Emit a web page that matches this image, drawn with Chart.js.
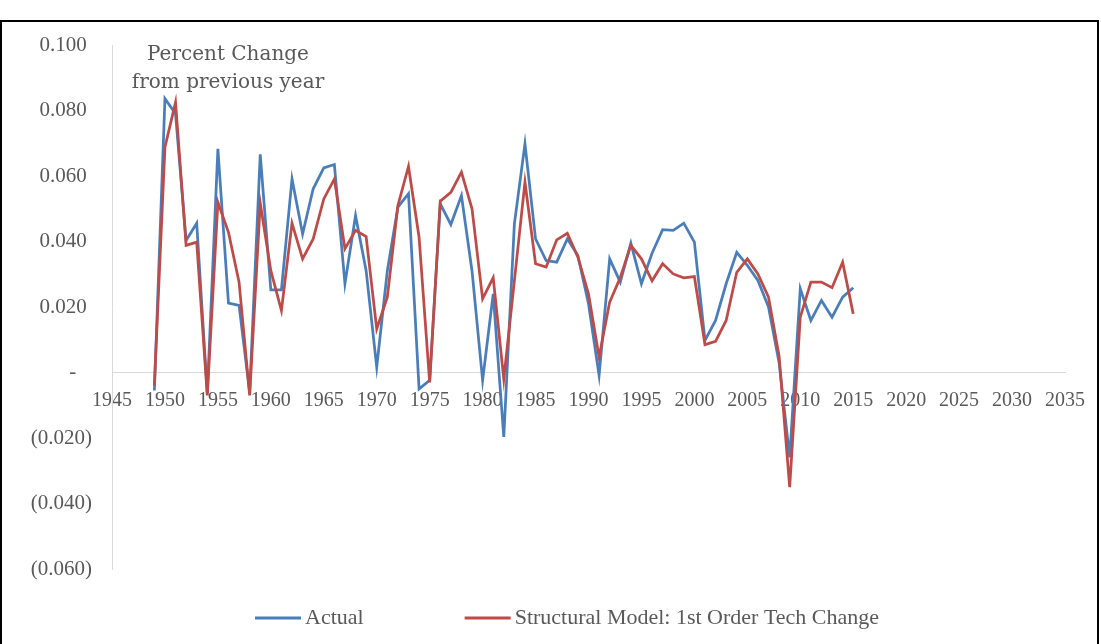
<!DOCTYPE html>
<html>
<head>
<meta charset="utf-8">
<script src="https://cdn.jsdelivr.net/npm/chart.js@4.4.1/dist/chart.umd.min.js"></script>
<style>
  html, body { margin: 0; padding: 0; background: #fff; }
  #wrap { position: relative; width: 1101px; height: 644px; overflow: hidden; }
  #frame { position: absolute; left: 0; top: 20px; width: 1099px; height: 700px; border: 2px solid #000; box-sizing: border-box; pointer-events: none; }
</style>
</head>
<body>
<div id="wrap">
  <canvas id="canva" width="1101" height="644"></canvas>
  <div id="frame"></div>
</div>
<script>
const years = [
  1949, 1950, 1951, 1952, 1953, 1954, 1955, 1956, 1957, 1958,
  1959, 1960, 1961, 1962, 1963, 1964, 1965, 1966, 1967, 1968,
  1969, 1970, 1971, 1972, 1973, 1974, 1975, 1976, 1977, 1978,
  1979, 1980, 1981, 1982, 1983, 1984, 1985, 1986, 1987, 1988,
  1989, 1990, 1991, 1992, 1993, 1994, 1995, 1996, 1997, 1998,
  1999, 2000, 2001, 2002, 2003, 2004, 2005, 2006, 2007, 2008,
  2009, 2010, 2011, 2012, 2013, 2014, 2015
];
const actual = [
  -0.0055, 0.0836, 0.0790, 0.0403, 0.0456, -0.0062, 0.0683, 0.0212, 0.0205, -0.0060,
  0.0666, 0.0252, 0.0252, 0.0591, 0.0423, 0.0561, 0.0625, 0.0635, 0.0271, 0.0479,
  0.0311, 0.0016, 0.0310, 0.0505, 0.0546, -0.0050, -0.0024, 0.0515, 0.0452, 0.0540,
  0.0310, -0.0024, 0.0240, -0.0197, 0.0454, 0.0698, 0.0408, 0.0342, 0.0337, 0.0408,
  0.0357, 0.0210, -0.0009, 0.0347, 0.0276, 0.0395, 0.0271, 0.0364, 0.0436, 0.0434,
  0.0456, 0.0398, 0.0098, 0.0159, 0.0271, 0.0367, 0.0327, 0.0281, 0.0200, 0.0030,
  -0.0259, 0.0256, 0.0159, 0.0220, 0.0169, 0.0230, 0.0259
];
const structural = [
  -0.0040, 0.0688, 0.0825, 0.0388, 0.0398, -0.0070, 0.0520, 0.0428, 0.0276, -0.0070,
  0.0517, 0.0311, 0.0189, 0.0456, 0.0347, 0.0408, 0.0530, 0.0591, 0.0378, 0.0434,
  0.0415, 0.0133, 0.0230, 0.0510, 0.0629, 0.0413, -0.0030, 0.0523, 0.0550, 0.0612,
  0.0500, 0.0225, 0.0290, -0.0020, 0.0280, 0.0581, 0.0332, 0.0322, 0.0405, 0.0425,
  0.0352, 0.0240, 0.0047, 0.0215, 0.0290, 0.0388, 0.0347, 0.0280, 0.0332, 0.0301,
  0.0289, 0.0293, 0.0085, 0.0095, 0.0159, 0.0306, 0.0347, 0.0301, 0.0230, 0.0050,
  -0.0350, 0.0169, 0.0276, 0.0276, 0.0259, 0.0337, 0.0179
];
const seriesNames = ["Actual", "Structural Model: 1st Order Tech Change"];
const xTicks = [1945, 1950, 1955, 1960, 1965, 1970, 1975, 1980, 1985, 1990,
  1995, 2000, 2005, 2010, 2015, 2020, 2025, 2030, 2035];
const yTicks = [0.1, 0.08, 0.06, 0.04, 0.02, 0, -0.02, -0.04, -0.06];
const yTickLabels = ["0.100", "0.080", "0.060", "0.040", "0.020", "-", "(0.020)", "(0.040)", "(0.060)"];
const titleLines = ["Percent Change", "from previous year"];

const grey = "#595959";
const axisGrey = "#d9d9d9";

// title inside the plot and the legend under it, drawn on the canvas
const overlay = {
  id: "overlay",
  afterDraw(chart) {
    const c = chart.ctx;
    c.save();
    c.fillStyle = grey;
    c.textBaseline = "middle";
    c.textAlign = "center";
    c.font = '20px "DejaVu Serif"';
    c.fillText(titleLines[0], 228, 55);
    c.fillText(titleLines[1], 228, 83);

    c.textAlign = "left";
    c.font = '22px "Liberation Serif"';
    let x = 255;
    const y = 618;
    chart.data.datasets.forEach((ds) => {
      c.strokeStyle = ds.borderColor;
      c.lineWidth = 3;
      c.beginPath();
      c.moveTo(x, y);
      c.lineTo(x + 46, y);
      c.stroke();
      c.fillText(ds.label, x + 50, y);
      x += 50 + c.measureText(ds.label).width + 101;
    });
    c.restore();
  },
};

const ctx = document.getElementById("canva");
new Chart(ctx, {
  type: "line",
  data: {
    datasets: [
      {
        label: seriesNames[0],
        data: years.map((yr, i) => ({ x: yr, y: actual[i] })),
        borderColor: "#4a7ebb",
        backgroundColor: "#4a7ebb",
        borderWidth: 2.75,
        pointRadius: 0,
        tension: 0,
        order: 1,
      },
      {
        label: seriesNames[1],
        data: years.map((yr, i) => ({ x: yr, y: structural[i] })),
        borderColor: "#be4b48",
        backgroundColor: "#be4b48",
        borderWidth: 2.75,
        pointRadius: 0,
        tension: 0,
        order: 0,
      },
    ],
  },
  options: {
    responsive: false,
    animation: false,
    layout: {
      padding: { top: 45, right: 33, bottom: 75, left: 0 },
    },
    scales: {
      x: {
        type: "linear",
        position: { y: 0 },
        min: xTicks[0],
        max: xTicks[xTicks.length - 1],
        afterBuildTicks: (s) => {
          s.ticks = xTicks.map((v) => ({ value: v }));
        },
        grid: { display: false, drawTicks: false },
        border: { display: true, color: axisGrey, width: 1 },
        ticks: {
          autoSkip: false,
          maxRotation: 0,
          padding: 16,
          color: grey,
          font: { family: '"Liberation Serif"', size: 20 },
          callback: (v) => String(v),
        },
      },
      y: {
        type: "linear",
        min: yTicks[yTicks.length - 1],
        max: yTicks[0],
        afterBuildTicks: (s) => {
          s.ticks = yTicks.map((v) => ({ value: v }));
        },
        afterFit: (s) => {
          s.width = 112;
        },
        grid: { display: false, drawTicks: false },
        border: { display: true, color: axisGrey, width: 1 },
        ticks: {
          padding: 20,
          color: grey,
          font: { family: '"Liberation Serif"', size: 21 },
          callback: (v) => {
            const i = yTicks.findIndex((t) => Math.abs(t - v) < 1e-9);
            const lab = i >= 0 ? yTickLabels[i] : "";
            if (v > 0) return lab + " ";
            if (Math.abs(v) < 1e-9) return lab + "   ";
            return lab;
          },
        },
      },
    },
    plugins: {
      legend: { display: false },
      tooltip: { enabled: false },
    },
  },
  plugins: [overlay],
});
</script>
</body>
</html>
